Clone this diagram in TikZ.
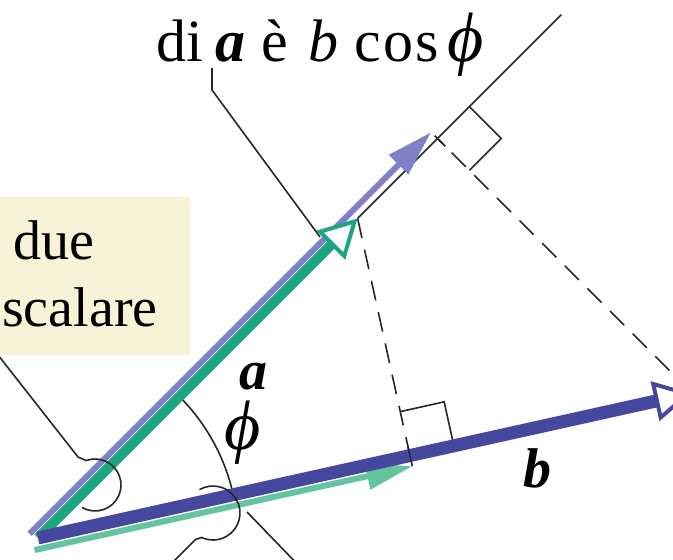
\documentclass[tikz,border=0pt]{standalone}
\usepackage{fontspec}
\setmainfont{Liberation Serif}
\newcommand{\phisym}{{\fontsize{70}{80}\selectfont\textit{ϕ}}}
\usetikzlibrary{arrows.meta, calc}

\definecolor{agreen}{RGB}{27,165,128}
\definecolor{bblue}{RGB}{70,72,160}
\definecolor{projblue}{RGB}{128,128,200}
\definecolor{projgreen}{RGB}{100,196,160}
\definecolor{notebg}{RGB}{248,243,215}

\tikzstyle{vector} = [
    line width=10pt,
    -{Triangle[fill=white, length=38pt, width=40pt, line width=4pt]}
]
\tikzstyle{projarrow} = [
    line width=6pt,
    -{Triangle[length=46pt, width=26pt]}
]
\tikzstyle{guide} = [line width=1.6pt, draw=black!85]
\tikzstyle{dropline} = [guide, dash pattern=on 20pt off 12pt]
\tikzstyle{txt} = [font=\fontsize{56}{68}\selectfont, inner sep=0pt]

\begin{document}
\begin{tikzpicture}[x=1pt, y=1pt]
\useasboundingbox (0,0) rectangle (673,560);

\node (note) [fill=notebg, minimum width=260pt, minimum height=158pt,
    inner sep=0pt, anchor=south east] at (190,205) {};
\node (due) [txt, anchor=base west] at (13,300) {due};
\node (scalare) [txt, anchor=base west] at (2,233) {scalare};

\node (toplabel) [txt, font=\fontsize{60}{72}\selectfont, anchor=base west] at (156,498)
{di\hspace{13pt}\textbf{\textit{a}}\hspace{16pt}è\hspace{20pt}\textit{b}\hspace{16pt}c\hspace{2pt}o\hspace{2pt}s\hspace{9pt}\phisym};

\coordinate (O) at (38,22);
\coordinate (atip) at ($(O)+(45:452)$);
\coordinate (aend) at ($(O)+(45:740)$);
\coordinate (btip) at ($(O)+(12.5:670)$);
\coordinate (pa) at ($(O)+(45:565)$);
\coordinate (pb) at ($(O)+(12.5:381)$);

% angle phi
\draw [guide] ($(O)+(45:200)$) arc[start angle=45, end angle=12.5, radius=200];

% perpendiculars
\draw [dropline] (atip) -- (pb);
\draw [dropline] (btip) -- (pa);
\draw [guide] (atip) -- (aend);
\draw [guide] ($(pa)+(45:45)$) -- ++(-45:45) -- ($(pa)+(-45:45)$);
\draw [guide] ($(pb)+(12.5:45)$) -- ++(102.5:45) -- ($(pb)+(102.5:45)$);

% leaders
\coordinate (t1) at (212,492);
\coordinate (t2) at (212,470);
\coordinate (t3) at (320,323);
\draw [guide] (t1) -- (t2) -- (t3);

\coordinate (n1) at (-2,205);
\coordinate (k1) at (78,103);
\coordinate (c1) at (95,75);
\coordinate (c2) at (213,47);
\coordinate (m2) at (150,-25);
\coordinate (m3s) at (247,48);
\coordinate (m3e) at (305,-12);
\draw [guide] (m3s) -- (m3e);

% vectors and projections
\draw [projarrow, projblue] ($(O)+(135:9)+(225:3)$) -- ($(pa)+(135:9)$);
\draw [projarrow, projgreen] ($(O)+(-77.5:11)+(192.5:6)$) -- ($(pb)+(-77.5:11)$);
\draw [vector, agreen] (O) -- (atip);
\draw [vector, bblue, line width=13pt] (O) -- (btip);

\draw [guide] ($(pa)+(135:4)$) -- ($(pa)+(-45:11)$);
\draw [guide] ($(pb)+(102.5:10)$) -- ($(pb)+(-77.5:11)$);

\draw [guide] (n1) -- (k1) -- ($(c1)+(110:26)$)
    arc[start angle=110, end angle=-120, radius=26];
\draw [guide] ($(c2)+(120:27)$) arc[start angle=120, end angle=-115, radius=27]
    -- ++(-6,-2) -- (m2);

\node (alabel) [txt] at (253,183) {\textbf{\textit{a}}};
\node (philabel) [txt] at (243,127) {\phisym};
\node (blabel) [txt] at (537,92) {\textbf{\textit{b}}};

\end{tikzpicture}
\end{document}
